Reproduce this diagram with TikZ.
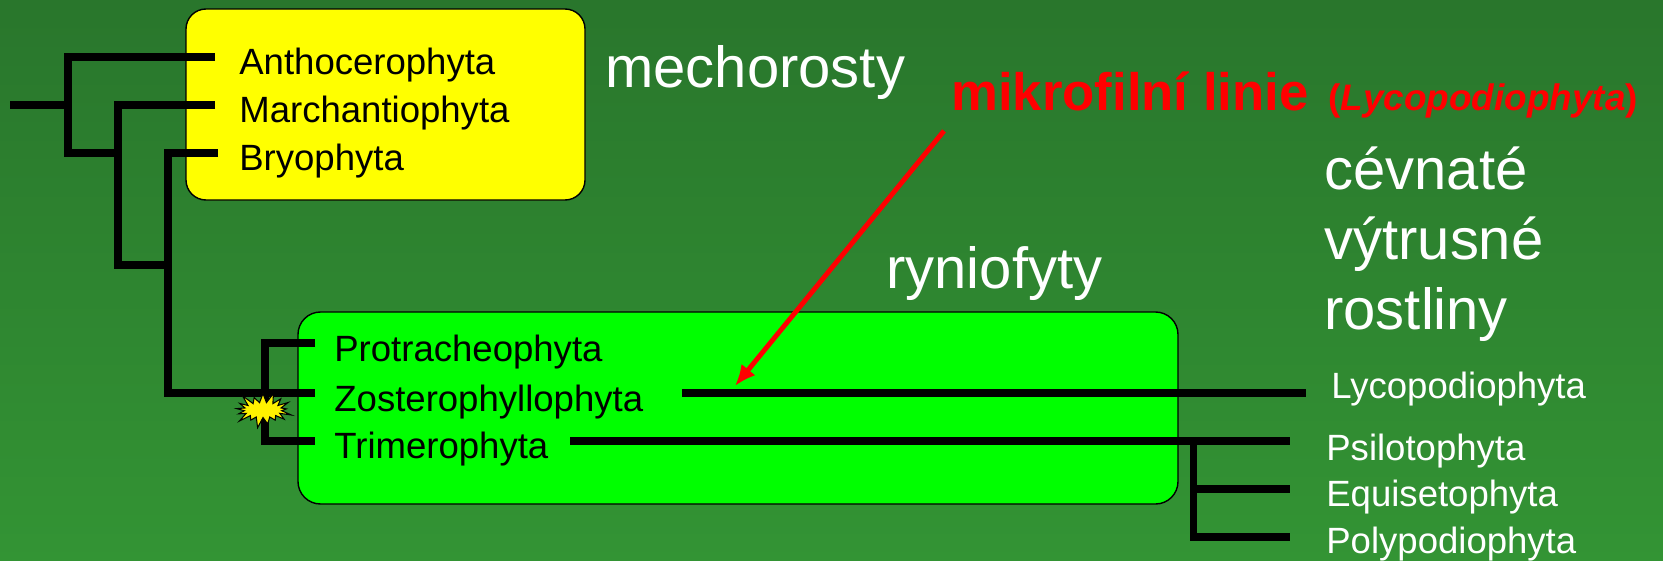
\documentclass[tikz,border=0pt]{standalone}
\usepackage{fontspec}
\setmainfont{Liberation Sans}
\usetikzlibrary{shapes.symbols,arrows.meta}
\definecolor{bgtop}{RGB}{41,118,44}
\definecolor{bgbot}{RGB}{51,148,52}
\definecolor{moss}{RGB}{255,255,0}
\definecolor{rynia}{RGB}{0,255,0}
\begin{document}
\begin{tikzpicture}[x=0.02cm,y=-0.02cm,>={Latex[length=0.42cm,width=0.36cm]},
  branch/.style={line width=4pt},
  taxon/.style={anchor=base west,inner sep=0pt,font=\fontsize{20.8}{25}\selectfont},
  big/.style={anchor=base west,inner sep=0pt,text=white,font=\fontsize{33}{39.7}\selectfont}]
\shade[top color=bgtop,bottom color=bgbot] (0,0) rectangle (1663,561);
\useasboundingbox (0,0) rectangle (1663,561);
% groups
\draw[fill=moss,rounded corners=0.4cm,line width=0.8pt] (186,9) rectangle (585,200);
\draw[fill=rynia,rounded corners=0.45cm,line width=0.8pt] (298,312) rectangle (1178,504);
% taxa
\node[taxon] (antho) at (239,74) {Anthocerophyta};
\node[taxon] (march) at (239,122) {Marchantiophyta};
\node[taxon] (bryo) at (239,170) {Bryophyta};
\node[taxon] (protra) at (334,361) {Protracheophyta};
\node[taxon] (zoster) at (334,411) {Zosterophyllophyta};
\node[taxon] (trimer) at (334,458) {Trimerophyta};
\node[taxon,text=white] (lyco) at (1331,398) {Lycopodiophyta};
\node[taxon,text=white] (psilo) at (1326,460) {Psilotophyta};
\node[taxon,text=white] (equi) at (1326,506) {Equisetophyta};
\node[taxon,text=white] (poly) at (1326,553) {Polypodiophyta};
% tree
\draw[branch] (10,105) -- (68,105);
\draw[branch] (215,57) -- (68,57) -- (68,153) -- (118,153);
\draw[branch] (215,105) -- (118,105) -- (118,265) -- (168,265);
\draw[branch] (218,153) -- (168,153) -- (168,393) -- (315,393);
\draw[branch] (315,343) -- (265,343) -- (265,441) -- (315,441);
\draw[branch] (682,393) -- (1306,393);
\draw[branch] (570,441) -- (1290,441);
\draw[branch] (1193,441) -- (1193,537) -- (1290,537);
\draw[branch] (1193,489) -- (1290,489);
\node[starburst,draw,fill=yellow,line width=0.6pt,minimum width=1.25cm,minimum height=0.8cm,
  starburst point height=0.25cm,inner sep=0pt] (burst) at (263,410) {};
% group names
\node[big] (mech) at (605,87) {mechorosty};
\node[big] (rynio) at (886,288) {ryniofyty};
\node[big,align=left] (cevn) at (1324,329) {cévnaté\\výtrusné\\rostliny};
\node[anchor=base west,inner sep=0pt,text=red,font=\bfseries\fontsize{30}{36}\selectfont] (mikro) at (951,110) {mikrofilní linie};
\node[anchor=base west,inner sep=0pt,text=red,font=\bfseries\fontsize{21}{25}\selectfont] (lycolat) at (1328,110) {(\textit{Lycopodiophyta})};
\coordinate (mikrotip) at (735,386);
\draw[->,red,line width=2.8pt] ([xshift=-0.14cm,yshift=-0.4cm]mikro.south west) -- (mikrotip);
\end{tikzpicture}
\end{document}
